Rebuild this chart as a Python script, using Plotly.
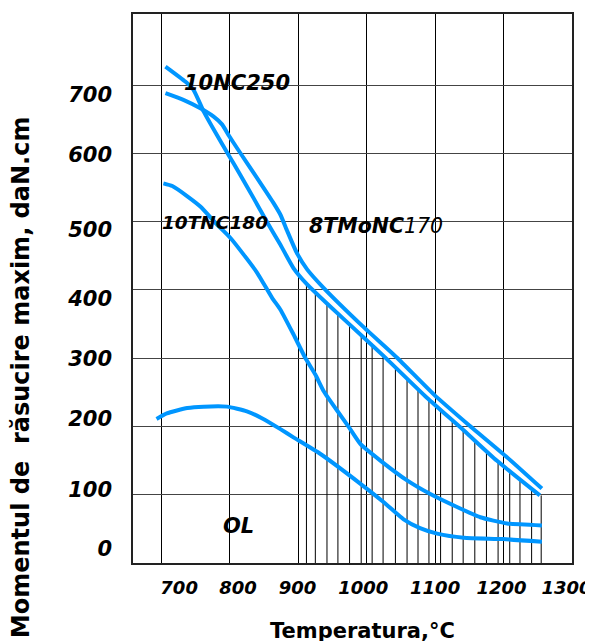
import numpy as np
import plotly.graph_objects as go

# ---- data ----
temp_10nc250 = [706, 735, 747, 762, 781, 798, 815, 835, 854, 874, 893, 913, 942, 996, 1025, 1088, 1142, 1190, 1253]
torque_10nc250 = [727, 705, 693, 661, 627, 598, 569, 534, 500, 466, 432, 408, 380, 330, 303, 242, 194, 150, 99]

temp_8tmonc170 = [706, 733, 757, 776, 789, 798, 811, 825, 845, 864, 874, 884, 898, 913, 937, 996, 1044, 1098, 1147, 1205, 1256]
torque_8tmonc170 = [688, 678, 666, 654, 642, 627, 607, 586, 556, 527, 510, 486, 454, 430, 403, 345, 301, 247, 204, 155, 109]

temp_10tnc180 = [703, 716, 738, 757, 781, 801, 820, 840, 862, 874, 893, 910, 925, 937, 957, 974, 991, 1020, 1059, 1093, 1132, 1166, 1205, 1256]
torque_10tnc180 = [556, 552, 537, 522, 496, 476, 452, 425, 388, 371, 335, 301, 276, 252, 223, 199, 174, 150, 121, 101, 82, 67, 58, 55]

temp_ol = [693, 708, 738, 762, 796, 825, 849, 874, 893, 932, 991, 1025, 1054, 1078, 1103, 1142, 1200, 1256]
torque_ol = [211, 219, 227, 229, 229, 222, 211, 196, 184, 160, 116, 89, 64, 51, 43, 37, 35, 31]

# hatch lines (vertical) in the hot-working zone
hatch_temps = [912, 925, 942, 958, 975, 992, 1008, 1024, 1042, 1059, 1075, 1091, 1108, 1125,
               1141, 1158, 1175, 1192, 1209, 1224, 1241, 1255]

x_grid = [700, 800, 900, 1000, 1100, 1200]
y_grid = [0, 100, 200, 300, 400, 500, 600, 700]
x_tick_text = ["700", "800", "900", "1000", "1100", "1200", "1300"]
y_tick_text = ["700", "600", "500", "400", "300", "200", "100", "0"]

# ---- layout helpers (positions of labels, not data) ----
x_label_pos = [726, 812, 899, 995, 1100, 1197, 1292]
y_label_pos = [686, 598, 488, 387, 299, 211, 107, 21]
X_RANGE = [658.6, 1300]
Y_RANGE = [0, 804]

BLUE = "#0096FF"
TICKFONT = dict(family="DejaVu Sans", color="black", weight="bold", style="italic")

fig = go.Figure()

# hatching
hatch_top = np.interp(hatch_temps, temp_10nc250, torque_10nc250)
hx, hy = [], []
for t, top in zip(hatch_temps, hatch_top):
    hx += [t, t, None]
    hy += [0, top, None]
fig.add_trace(go.Scatter(x=hx, y=hy, mode="lines", line=dict(color="black", width=1),
                         showlegend=False, hoverinfo="skip"))

for xs, ys, name in [(temp_10nc250, torque_10nc250, "10NC250"),
                     (temp_8tmonc170, torque_8tmonc170, "8TMoNC170"),
                     (temp_10tnc180, torque_10tnc180, "10TNC180"),
                     (temp_ol, torque_ol, "OL")]:
    fig.add_trace(go.Scatter(x=xs, y=ys, mode="lines", name=name,
                             line=dict(color=BLUE, width=4, shape="spline", smoothing=0.5),
                             showlegend=False))

# dummy trace for label axes
fig.add_trace(go.Scatter(x=[None], y=[None], xaxis="x2", yaxis="y2", showlegend=False, hoverinfo="skip"))

fig.update_layout(
    width=593, height=641,
    margin=dict(l=125, r=29, t=4, b=86),
    paper_bgcolor="white", plot_bgcolor="white",
    xaxis=dict(range=X_RANGE, tickvals=x_grid, showticklabels=False, showgrid=True,
               gridcolor="black", gridwidth=1, zeroline=False, showline=True, mirror=True,
               linecolor="#222", linewidth=2, ticks=""),
    yaxis=dict(range=Y_RANGE, tickvals=y_grid, showticklabels=False, showgrid=True,
               gridcolor="#444", gridwidth=1, zeroline=False, showline=True, mirror=True,
               linecolor="#222", linewidth=2, ticks=""),
    xaxis2=dict(range=X_RANGE, overlaying="x", anchor="y", side="bottom", tickvals=x_label_pos,
                ticktext=x_tick_text, showgrid=False, zeroline=False, showline=False, ticks="",
                tickfont=dict(size=18, **TICKFONT), ticklabelstandoff=12),
    yaxis2=dict(range=Y_RANGE, overlaying="y", anchor="x", side="left", tickvals=y_label_pos,
                ticktext=y_tick_text, showgrid=False, zeroline=False, showline=False, ticks="",
                tickfont=dict(size=21, **TICKFONT), ticklabelstandoff=20),
    showlegend=False,
)

LABELFONT = dict(family="DejaVu Sans", color="black", weight="bold", style="italic")
fig.add_annotation(x=810, y=703, text="10NC250", showarrow=False, font=dict(size=21, **LABELFONT))
fig.add_annotation(x=779, y=498, text="10TNC180", showarrow=False, font=dict(size=18.5, **LABELFONT))
fig.add_annotation(x=1014, y=493, text='8TMoNC<span style="font-weight:normal">170</span>',
                   showarrow=False, font=dict(size=20.5, **LABELFONT))
fig.add_annotation(x=813, y=54, text="OL", showarrow=False, font=dict(size=21, **LABELFONT))

fig.add_annotation(xref="paper", yref="paper", x=0.522, y=-0.124, text="Temperatura,\u00b0C",
                   showarrow=False, xanchor="center", yanchor="middle",
                   font=dict(family="DejaVu Sans", size=21, color="black", weight="bold"))
fig.add_annotation(xref="paper", yref="paper", x=-0.2545, y=0.339,
                   text="Momentul de\u00a0 r\u0103sucire maxim, daN.cm", textangle=-90,
                   showarrow=False, xanchor="center", yanchor="middle",
                   font=dict(family="DejaVu Sans", size=24, color="black", weight="bold"))

fig.write_html("out.html")
